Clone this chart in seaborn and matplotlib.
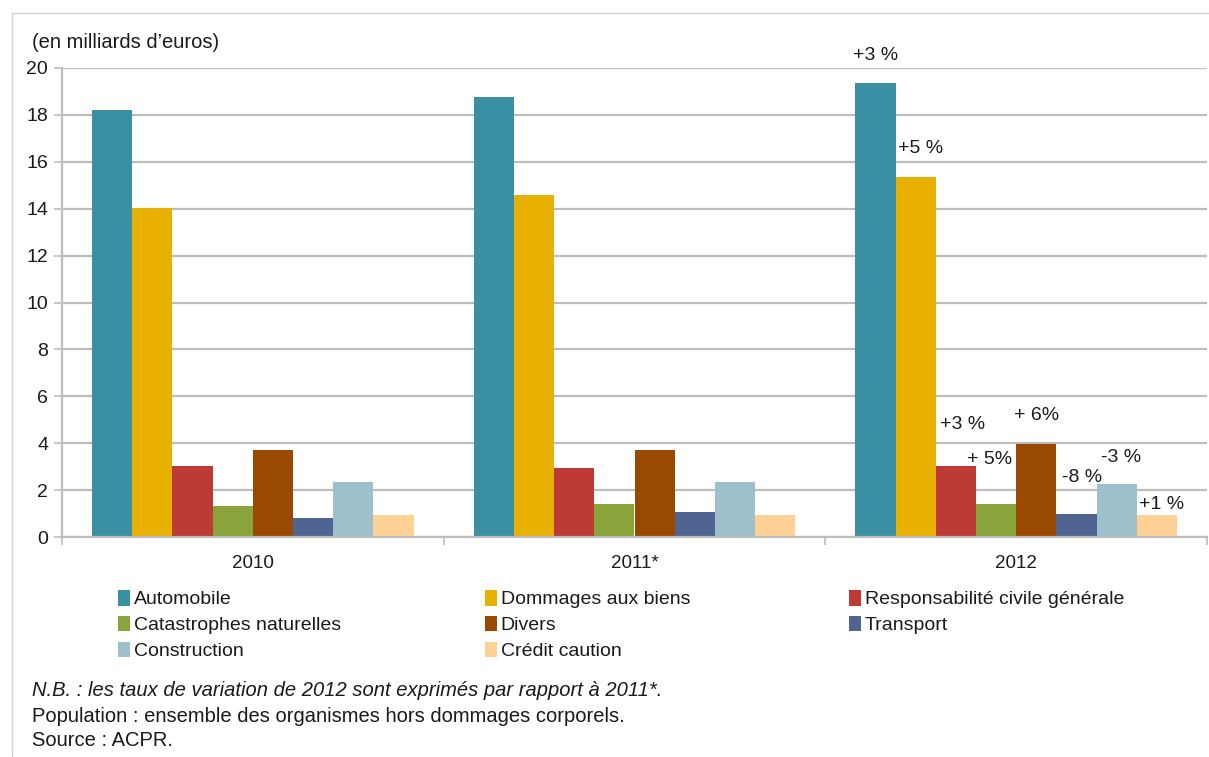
import matplotlib
matplotlib.use("Agg")
import matplotlib.pyplot as plt
from matplotlib.lines import Line2D
import seaborn as sns
import pandas as pd

# Years on the category axis
years = ["2010", "2011*", "2012"]

# Business lines (hue order)
categories = [
    "Automobile",
    "Dommages aux biens",
    "Responsabilité civile générale",
    "Catastrophes naturelles",
    "Divers",
    "Transport",
    "Construction",
    "Crédit caution",
]

# Premiums in billions of euros, one list per line of business (2010, 2011*, 2012)
automobile = [18.2, 18.75, 19.35]
dommages_biens = [14.05, 14.6, 15.35]
responsabilite_civile = [3.03, 2.93, 3.03]
catastrophes_naturelles = [1.33, 1.42, 1.42]
divers = [3.72, 3.72, 3.97]
transport = [0.83, 1.07, 0.97]
construction = [2.36, 2.35, 2.25]
credit_caution = [0.92, 0.92, 0.92]

# 2012 change versus 2011*
variations_2012 = ["+3 %", "+5 %", "+3 %", "+ 5%", "+ 6%", "-8 %", "-3 %", "+1 %"]

colors = ["#3A8FA3", "#E8B000", "#BE3A34", "#88A43A", "#9A4A00",
          "#4F6490", "#9EC0CC", "#FFD195"]

series = [automobile, dommages_biens, responsabilite_civile, catastrophes_naturelles,
          divers, transport, construction, credit_caution]

rows = []
for cat, vals in zip(categories, series):
    for yr, v in zip(years, vals):
        rows.append({"annee": yr, "ligne": cat, "montant": v})
df = pd.DataFrame(rows)

sns.set_theme(style="white")
plt.rcParams["font.family"] = ["Liberation Sans", "DejaVu Sans"]

TXT = "#1a1a1a"

fig = plt.figure(figsize=(12.09, 7.57), dpi=100)
ax = fig.add_axes([62 / 1209, (757 - 537) / 757, (1207 - 62) / 1209, (537 - 68) / 757])

sns.barplot(data=df, x="annee", y="montant", hue="ligne", order=years,
            hue_order=categories, palette=colors, width=0.843, gap=0,
            linewidth=0, saturation=1, ax=ax, legend=True)

ax.set_xlim(-0.5, 2.5)
ax.set_ylim(0, 20)
ax.set_yticks(range(0, 21, 2))
ax.yaxis.grid(True, color="#BDBDBD", linewidth=1.6)
ax.set_axisbelow(True)
ax.set_xlabel("")
ax.set_ylabel("")

for side in ["top", "right"]:
    ax.spines[side].set_visible(False)
for side in ["left", "bottom"]:
    ax.spines[side].set_color("#BDBDBD")
    ax.spines[side].set_linewidth(1.6)

ax.tick_params(axis="y", which="major", length=6, width=1.2, color="#BDBDBD",
               labelsize=14, labelcolor=TXT, left=True, pad=4)
ax.tick_params(axis="x", which="major", length=0, labelsize=13.5,
               labelcolor=TXT, pad=13)
ax.set_xticks([-0.5, 0.5, 1.5, 2.5], minor=True)
ax.tick_params(axis="x", which="minor", length=6, width=1.2, color="#BDBDBD",
               bottom=True)

# Variation labels above the 2012 bars
offsets = [(0, 28), (5, 29), (7, 41), (-6, 44), (0, 28), (6, 37), (4, 27), (5, 11)]
bar_w = 0.843 / len(categories)
for i, (cat, vals) in enumerate(zip(categories, series)):
    xc = 2 + (i - (len(categories) - 1) / 2) * bar_w
    dx, dy = offsets[i]
    ax.annotate(variations_2012[i], xy=(xc, vals[2]), xytext=(dx, dy),
                textcoords="offset pixels", ha="center", va="center",
                fontsize=14, color=TXT)

# Legend split into three columns
handles, labels = ax.get_legend_handles_labels()
ax.legend_.remove()
hmap = dict(zip(labels, handles))
columns = [
    (["Automobile", "Catastrophes naturelles", "Construction"], 118),
    (["Dommages aux biens", "Divers", "Crédit caution"], 485),
    (["Responsabilité civile générale", "Transport"], 849),
]
for names, xpx in columns:
    leg = fig.legend([hmap[n] for n in names], names,
                     loc="upper left", bbox_to_anchor=(xpx / 1209, 1 - 590 / 757),
                     frameon=False, fontsize=14, handlelength=0.6, handleheight=0.85,
                     handletextpad=0.2, labelspacing=0.38, borderpad=0,
                     borderaxespad=0)
    for t in leg.get_texts():
        t.set_color(TXT)

# Unit label
fig.text(32 / 1209, 1 - 42 / 757, "(en milliards d’euros)", fontsize=14.5,
         color=TXT, va="center", ha="left")

# Notes
fig.text(32 / 1209, 1 - 691 / 757,
         "N.B. : les taux de variation de 2012 sont exprimés par rapport à 2011*.",
         fontsize=14.5, style="italic", color=TXT, va="center", ha="left")
fig.text(32 / 1209, 1 - 716 / 757,
         "Population : ensemble des organismes hors dommages corporels.",
         fontsize=14.5, color=TXT, va="center", ha="left")
fig.text(32 / 1209, 1 - 741 / 757, "Source : ACPR.",
         fontsize=14.5, color=TXT, va="center", ha="left")

# Frame lines
fig.add_artist(Line2D([12 / 1209, 1], [1 - 13 / 757, 1 - 13 / 757],
                      color="#D0D0D0", linewidth=1))
fig.add_artist(Line2D([12 / 1209, 12 / 1209], [1 - 13 / 757, 1 - 756 / 757],
                      color="#D0D0D0", linewidth=1))

fig.savefig("out.png", dpi=100)
